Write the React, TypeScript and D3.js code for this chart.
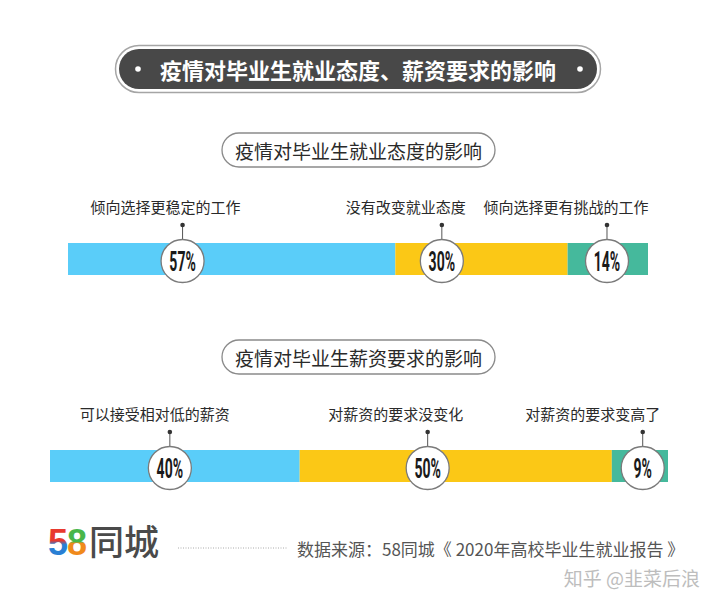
import React from "react";
import * as d3 from "d3";

const mainTitle = "疫情对毕业生就业态度、薪资要求的影响";

const attitudeTitle = "疫情对毕业生就业态度的影响";
const attitudeLabels = ["倾向选择更稳定的工作", "没有改变就业态度", "倾向选择更有挑战的工作"];
const attitudeValues = [57, 30, 14];

const salaryTitle = "疫情对毕业生薪资要求的影响";
const salaryLabels = ["可以接受相对低的薪资", "对薪资的要求没变化", "对薪资的要求变高了"];
const salaryValues = [40, 50, 9];

const sourceText = "数据来源：58同城《 2020年高校毕业生就业报告 》";
const watermark = "知乎 @韭菜后浪";

const COLORS = ["#5acdf9", "#fbc816", "#45b99c"];
const CJK = "'Noto Sans CJK SC', 'Noto Sans', sans-serif";

type BarLayout = {
  x0: number;
  x1: number;
  y: number;
  h: number;
  titleY: number;
  circleFrac: number[];
  labelOffset: number[];
};

const bar1Layout: BarLayout = {
  x0: 68,
  x1: 648,
  y: 243,
  h: 32,
  titleY: 150,
  circleFrac: [0.35, 0.27, 0.49],
  labelOffset: [-17, -36, -41],
};
const bar2Layout: BarLayout = {
  x0: 50,
  x1: 668,
  y: 450,
  h: 32,
  titleY: 357,
  circleFrac: [0.48, 0.41, 0.55],
  labelOffset: [-15, -32, -50],
};

function StackBar({ title, labels, values, L }: { title: string; labels: string[]; values: number[]; L: BarLayout }) {
  const total = d3.sum(values);
  const x = d3.scaleLinear().domain([0, total]).range([L.x0, L.x1]);
  const cum = d3.cumsum(values);
  const starts = values.map((v, i) => (i === 0 ? 0 : cum[i - 1]));
  const cy = L.y + L.h / 2 + 2;
  const r = 21.5;
  return (
    <g>
      <rect x={222} y={L.titleY - 17} width={273} height={34} rx={17} fill="#fff" stroke="#8a8a8a" strokeWidth={1.3} />
      <text x={358.5} y={L.titleY} textAnchor="middle" dominantBaseline="central" fontFamily={CJK} fontSize={19} fill="#2a2a2a">
        {title}
      </text>
      {values.map((v, i) => (
        <rect key={"s" + i} x={x(starts[i])} y={L.y} width={x(cum[i]) - x(starts[i])} height={L.h} fill={COLORS[i]} />
      ))}
      {values.map((v, i) => {
        const x0 = x(starts[i]);
        const x1 = x(cum[i]);
        const cx = x0 + (x1 - x0) * L.circleFrac[i];
        const lx = cx + L.labelOffset[i];
        const labelY = L.y - 37;
        const dotY = L.y - 18;
        return (
          <g key={"c" + i}>
            <text x={lx} y={labelY} textAnchor="middle" dominantBaseline="central" fontFamily={CJK} fontSize={15} fill="#2a2a2a">
              {labels[i]}
            </text>
            <line x1={cx} x2={cx} y1={dotY} y2={cy - r} stroke="#555" strokeWidth={1} />
            <circle cx={cx} cy={dotY} r={2.3} fill="#333" />
            <circle cx={cx} cy={cy} r={r} fill="#fff" stroke="#7a7a7a" strokeWidth={1.3} />
            <text
              transform={`translate(${cx},${cy + 1}) scale(0.52,1)`}
              textAnchor="middle"
              dominantBaseline="central"
              fontFamily="Roboto, sans-serif"
              fontWeight={700}
              fontSize={27}
              fill="#1a1a1a"
            >
              {v + "%"}
            </text>
          </g>
        );
      })}
    </g>
  );
}

export default function App() {
  return (
    <div style={{ position: "absolute", left: 0, top: 0 }}>
      <svg width={720} height={606} style={{ display: "block", background: "#fff" }}>
        <defs>
          <linearGradient id="g5" x1="0" y1="0" x2="0" y2="1">
            <stop offset="0%" stopColor="#e8392f" />
            <stop offset="45%" stopColor="#e8392f" />
            <stop offset="55%" stopColor="#2a7fd4" />
            <stop offset="100%" stopColor="#2a7fd4" />
          </linearGradient>
          <linearGradient id="g8" x1="0" y1="0" x2="0" y2="1">
            <stop offset="0%" stopColor="#49b64a" />
            <stop offset="48%" stopColor="#49b64a" />
            <stop offset="52%" stopColor="#f08a1c" />
            <stop offset="100%" stopColor="#f08a1c" />
          </linearGradient>
        </defs>
        <rect x={0} y={0} width={720} height={606} fill="#fff" />
        <rect x={115.5} y={45.5} width={485} height={47} rx={23.5} fill="#fff" stroke="#a5a5a5" strokeWidth={1.5} />
        <rect x={119} y={49} width={478} height={40} rx={20} fill="#484848" />
        <circle cx={138} cy={69} r={2.8} fill="#fff" />
        <circle cx={580} cy={69} r={2.8} fill="#fff" />
        <text x={358} y={69} textAnchor="middle" dominantBaseline="central" fontFamily={CJK} fontSize={22} fontWeight={700} fill="#fff">
          {mainTitle}
        </text>

        <StackBar title={attitudeTitle} labels={attitudeLabels} values={attitudeValues} L={bar1Layout} />
        <StackBar title={salaryTitle} labels={salaryLabels} values={salaryValues} L={bar2Layout} />

        <text x={48} y={555} fontFamily="'Liberation Sans', Arial, sans-serif" fontWeight={700} fontSize={36} fill="url(#g5)">5</text>
        <text x={67} y={555} fontFamily="'Liberation Sans', Arial, sans-serif" fontWeight={700} fontSize={36} fill="url(#g8)">8</text>
        <text x={89} y={555} fontFamily={CJK} fontSize={35} fontWeight={500} fill="#4a4a4a">同城</text>
        <line x1={178} x2={287} y1={548} y2={548} stroke="#aaa" strokeWidth={1} strokeDasharray="1,1.5" />
        <text x={297} y={548} dominantBaseline="central" fontFamily={CJK} fontSize={17} fill="#555">{sourceText}</text>
        <text x={700} y={577} textAnchor="end" dominantBaseline="central" fontFamily={CJK} fontSize={19} fill="#bdbdbd">{watermark}</text>
      </svg>
    </div>
  );
}
